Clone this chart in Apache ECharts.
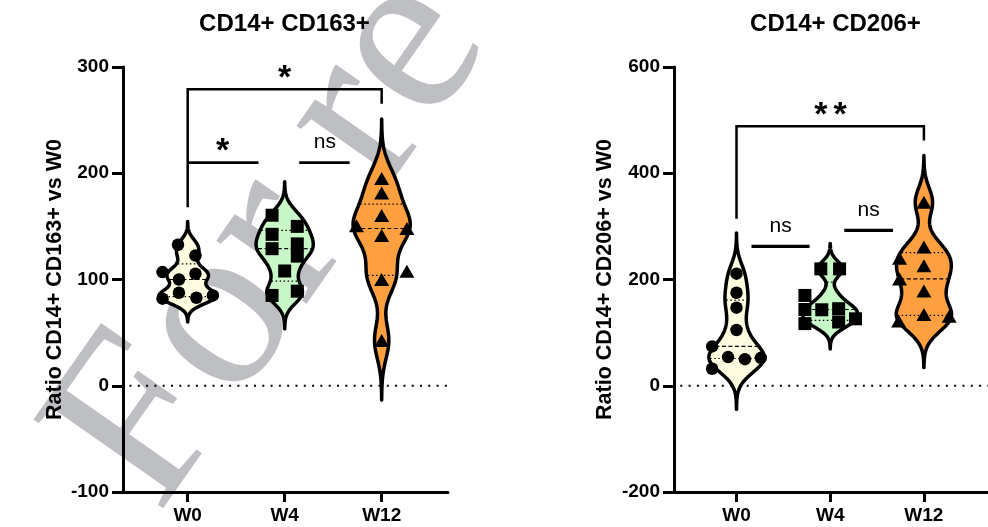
<!DOCTYPE html>
<html><head><meta charset="utf-8">
<script src="https://cdn.jsdelivr.net/npm/echarts@6/dist/echarts.min.js"></script>
<style>html,body{margin:0;padding:0;background:#fff}#c{width:988px;height:527px}</style>
</head><body><div id="c"></div>
<script>
// ---------- data ----------
const categories = ['W0', 'W4', 'W12'];
const titles = ['CD14+ CD163+', 'CD14+ CD206+'];
const yNames = ['Ratio CD14+ CD163+ vs W0', 'Ratio CD14+ CD206+ vs W0'];
const ticks163 = [-100, 0, 100, 200, 300];
const ticks206 = [-200, 0, 200, 400, 600];

// CD14+ CD163+ (values) and horizontal jitter (category units)
const cd163_W0 = [132.7, 122.6, 107, 105.4, 100, 87.5, 82, 82.8, 85];
const cd163_W0_x = [-0.10, 0.08, -0.26, 0.08, -0.09, -0.09, -0.26, 0.09, 0.26];
const cd163_W4 = [160.5, 150, 142.5, 129, 133.5, 122, 108, 85, 89];
const cd163_W4_x = [-0.13, 0.13, -0.13, -0.13, 0.13, 0.13, 0, -0.13, 0.13];
const cd163_W12 = [195, 181.5, 160.3, 150.5, 148, 141.5, 107.8, 100, 42.5];
const cd163_W12_x = [0, 0, 0, -0.26, 0.26, 0, 0.26, 0, 0];

// CD14+ CD206+
const cd206_W0 = [211, 175, 147, 105, 74, 54, 50, 52.5, 32];
const cd206_W0_x = [0, 0, 0, 0, -0.26, -0.09, 0.09, 0.26, -0.26];
const cd206_W4 = [220, 220, 170, 143.5, 117, 143, 145, 120, 126];
const cd206_W4_x = [-0.10, 0.10, -0.27, -0.27, -0.27, -0.09, 0.09, 0.09, 0.27];
const cd206_W12 = [345.6, 261, 226, 240, 201, 178.5, 134, 122, 131];
const cd206_W12_x = [0, 0, 0, -0.26, -0.26, 0, 0, -0.27, 0.27];

// ---------- helpers ----------
const FONT = '"Liberation Sans", Arial, sans-serif';
const fills = ['#FFFDE1', '#C8F7C8', '#FFA040'];
const symbols = ['circle', 'rect', 'triangle'];
const symSizes = [12.5, 13, [15, 13]];
const HW = 0.295;     // max half width of a violin (category units)
const BW = 0.37;      // kernel bandwidth factor (x sd)
const TAIL = 3.25;    // tail extent in bandwidths

function quant(s, p) {
  const pos = (s.length + 1) * p, lo = Math.floor(pos), hi = Math.ceil(pos);
  if (lo < 1) return s[0];
  if (hi > s.length) return s[s.length - 1];
  return s[lo - 1] + (s[hi - 1] - s[lo - 1]) * (pos - lo);
}
function violin(vals) {
  const n = vals.length, mean = vals.reduce((a, b) => a + b, 0) / n;
  const sd = Math.sqrt(vals.reduce((a, v) => a + (v - mean) ** 2, 0) / (n - 1));
  const bw = BW * sd;
  const lo = Math.min(...vals) - TAIL * bw, hi = Math.max(...vals) + TAIL * bw;
  const dens = y => vals.reduce((a, v) => a + Math.exp(-0.5 * ((y - v) / bw) ** 2), 0);
  const N = 160, prof = [];
  for (let i = 0; i <= N; i++) { const y = lo + (hi - lo) * i / N; prof.push([y, dens(y)]); }
  const mx = Math.max(...prof.map(p => p[1]));
  const s = [...vals].sort((a, b) => a - b);
  return { prof: prof.map(p => [p[0], p[1] / mx]), width: y => dens(y) / mx,
           q1: quant(s, 0.25), med: quant(s, 0.5), q3: quant(s, 0.75) };
}
function violinRender(groups) {
  return function (params, api) {
    const gi = params.dataIndex, g = groups[gi], pts = [];
    g.prof.forEach(p => pts.push(api.coord([gi + HW * p[1], p[0]])));
    for (let i = g.prof.length - 1; i >= 0; i--) { const p = g.prof[i]; pts.push(api.coord([gi - HW * p[1], p[0]])); }
    const children = [{ type: 'polygon', shape: { points: pts },
      style: { fill: fills[gi], stroke: '#000', lineWidth: 3.5, lineJoin: 'round' } }];
    [[g.q1, [1.5, 2.5]], [g.med, [4, 2.5]], [g.q3, [1.5, 2.5]]].forEach(([q, dash]) => {
      const w = HW * g.width(q) - 0.014;
      const a = api.coord([gi - w, q]), b = api.coord([gi + w, q]);
      children.push({ type: 'line', shape: { x1: a[0], y1: a[1], x2: b[0], y2: b[1] },
        style: { stroke: '#000', lineWidth: 1.2, lineDash: dash } });
    });
    return { type: 'group', children };
  };
}
function annRender(ann) {
  return function (params, api) {
    const children = [];
    ann.lines.forEach(l => {
      children.push({ type: 'polyline', shape: { points: l.pts.map(p => api.coord(p)) },
        style: { stroke: '#000', lineWidth: l.w, fill: null, lineJoin: 'miter' } });
    });
    ann.labels.forEach(l => {
      const c = api.coord(l.at);
      const star = l.t === '*';
      children.push({ type: 'text', x: c[0], y: c[1] + (star ? 7.8 : -1.5),
        style: { text: l.t, fill: '#000', align: 'center', verticalAlign: 'middle',
          font: star ? 'bold 34px ' + FONT : '21px ' + FONT } });
    });
    return { type: 'group', children };
  };
}

const g163 = [cd163_W0, cd163_W4, cd163_W12].map(violin);
const g206 = [cd206_W0, cd206_W4, cd206_W12].map(violin);
const pts163 = [[cd163_W0, cd163_W0_x], [cd163_W4, cd163_W4_x], [cd163_W12, cd163_W12_x]];
const pts206 = [[cd206_W0, cd206_W0_x], [cd206_W4, cd206_W4_x], [cd206_W12, cd206_W12_x]];

const ann163 = {
  lines: [{ pts: [[0, 168], [0, 279], [2, 279], [2, 265.4]], w: 2.5 },
          { pts: [[0, 210], [0.73, 210]], w: 2.8 },
          { pts: [[1.15, 210], [1.67, 210]], w: 2.8 }],
  labels: [{ t: '*', at: [0.36, 227.6] }, { t: '*', at: [1, 296] }, { t: 'ns', at: [1.415, 228] }]
};
const ann206 = {
  lines: [{ pts: [[0, 314.4], [0, 488.7], [2, 488.7], [2, 461.7]], w: 2.5 },
          { pts: [[0.16, 262.2], [0.78, 262.2]], w: 3.2 },
          { pts: [[1.15, 292.3], [1.67, 292.3]], w: 3.2 }],
  labels: [{ t: '*', at: [0.9, 523] }, { t: '*', at: [1.106, 523] },
           { t: 'ns', at: [0.47, 297] }, { t: 'ns', at: [1.41, 328] }]
};

function xAxis(i) {
  return { type: 'value', gridIndex: i, min: -0.667, max: 2.684,
    axisLine: { show: true, onZero: false, lineStyle: { color: '#000', width: 3 } },
    axisTick: { show: true, customValues: [0, 1, 2], length: 10, lineStyle: { color: '#000', width: 3 } },
    axisLabel: { customValues: [0, 1, 2], formatter: v => categories[Math.round(v)] || '', margin: 14,
      color: '#000', fontSize: 19, fontWeight: 'bold', fontFamily: FONT },
    splitLine: { show: false } };
}
function yAxis(i, ticks, gap) {
  return { type: 'value', gridIndex: i, min: ticks[0], max: ticks[ticks.length - 1],
    interval: ticks[1] - ticks[0],
    name: yNames[i], nameLocation: 'middle', nameRotate: 90, nameGap: gap,
    nameTextStyle: { color: '#000', fontSize: 21.5, fontWeight: 'bold', fontFamily: FONT },
    axisLine: { show: true, onZero: false, lineStyle: { color: '#000', width: 3 } },
    axisTick: { show: true, length: 11, lineStyle: { color: '#000', width: 3 } },
    axisLabel: { margin: 14, color: '#000', fontSize: 19, fontWeight: 'bold', fontFamily: FONT },
    splitLine: { show: false } };
}

const series = [];
[[g163, pts163, ann163], [g206, pts206, ann206]].forEach(([groups, pts, ann], ci) => {
  series.push({ type: 'line', xAxisIndex: ci, yAxisIndex: ci, data: [[-0.6, 0], [2.684, 0]],
    symbol: 'none', silent: true, z: 1,
    lineStyle: { color: '#000', width: 2, type: [2, 6.3] } });
  series.push({ type: 'custom', xAxisIndex: ci, yAxisIndex: ci, data: [[0, 0], [1, 0], [2, 0]],
    renderItem: violinRender(groups), silent: true, z: 3 });
  pts.forEach(([vals, xs], gi) => {
    series.push({ type: 'scatter', xAxisIndex: ci, yAxisIndex: ci, silent: true, z: 5,
      symbol: symbols[gi], symbolSize: symSizes[gi], itemStyle: { color: '#000', opacity: 1 },
      data: vals.map((v, k) => [gi + xs[k], v]) });
  });
  series.push({ type: 'custom', xAxisIndex: ci, yAxisIndex: ci, data: [[0, 0]],
    renderItem: annRender(ann), silent: true, z: 4 });
});

const chart = echarts.init(document.getElementById('c'), null, { renderer: 'canvas' });
chart.setOption({
  animation: false,
  backgroundColor: '#fff',
  title: [
    { text: titles[0], left: 284.5, top: 12, padding: 0, textAlign: 'center',
      textStyle: { color: '#000', fontSize: 24, fontWeight: 'bold', fontFamily: FONT } },
    { text: titles[1], left: 835.5, top: 12, padding: 0, textAlign: 'center',
      textStyle: { color: '#000', fontSize: 24, fontWeight: 'bold', fontFamily: FONT } }
  ],
  graphic: {
    elements: [{ type: 'text', silent: true, z: -10, x: 205, y: 548, rotation: 55 * Math.PI / 180,
      style: { text: 'For review', fill: '#BEBFC2', font: '240px "Liberation Serif", serif',
        align: 'left', verticalAlign: 'bottom' } }]
  },
  grid: [
    { left: 123, top: 67, width: 325, height: 425 },
    { left: 674, top: 67, width: 325, height: 425 }
  ],
  xAxis: [xAxis(0), xAxis(1)],
  yAxis: [yAxis(0, ticks163, 57), yAxis(1, ticks206, 58)],
  series
});
</script></body></html>
